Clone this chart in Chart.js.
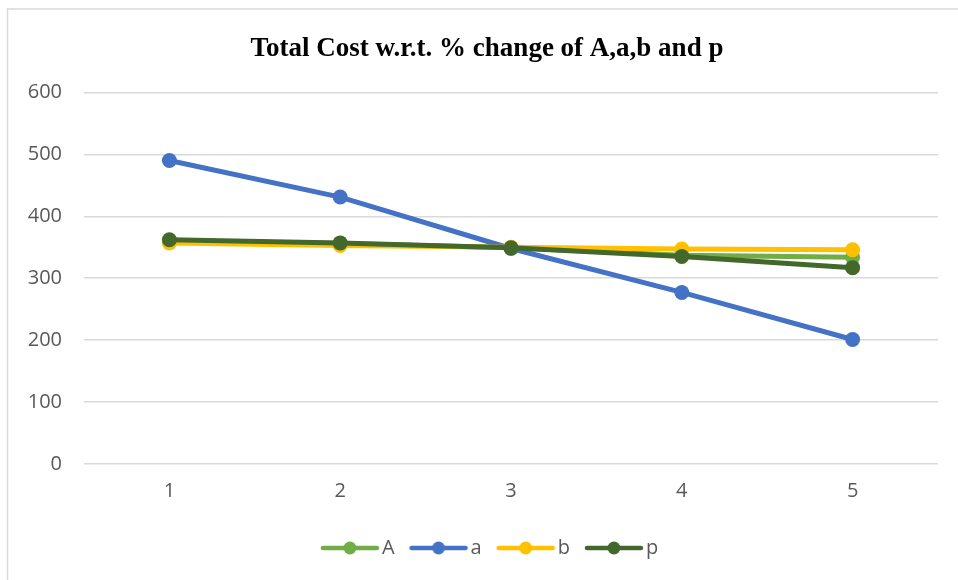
<!DOCTYPE html>
<html>
<head>
<meta charset="utf-8">
<script src="https://cdn.jsdelivr.net/npm/chart.js@4/dist/chart.umd.min.js"></script>
<style>
  html, body { margin: 0; padding: 0; background: #ffffff; }
  #wrap { position: relative; width: 958px; height: 580px; }
</style>
</head>
<body>
<div id="wrap"><canvas id="chart" width="958" height="580"></canvas></div>
<script>
// Percentage-change steps on the x axis
const steps = ['1', '2', '3', '4', '5'];

// Total cost for each parameter varied
const costA = [360, 356, 349, 337, 334];
const costLowerA = [490, 431, 348, 277, 201];
const costB = [357, 353, 350, 347, 346];
const costP = [362, 357, 349, 335, 317];

const seriesNames = ['A', 'a', 'b', 'p'];
const seriesColors = ['#70AD47', '#4472C4', '#FFC000', '#43682B'];

const yTicks = [0, 100, 200, 300, 400, 500, 600];

const tickFont = { family: "'Open Sans', 'Noto Sans', sans-serif", size: 20 };
const tickColor = '#595959';

// Legend swatch: a short line with a dot in the middle
function legendSwatch(color) {
  const c = document.createElement('canvas');
  c.width = 60; c.height = 16;
  const g = c.getContext('2d');
  g.strokeStyle = color;
  g.lineWidth = 4.5;
  g.lineCap = 'round';
  g.beginPath();
  g.moveTo(3, 8); g.lineTo(57, 8);
  g.stroke();
  g.fillStyle = color;
  g.beginPath();
  g.arc(30, 8, 6.5, 0, Math.PI * 2);
  g.fill();
  return c;
}

const allSeries = [costA, costLowerA, costB, costP];
const datasets = allSeries.map((vals, i) => ({
  label: seriesNames[i],
  data: vals,
  borderColor: seriesColors[i],
  backgroundColor: seriesColors[i],
  borderWidth: 5,
  pointRadius: 7.5,
  pointHoverRadius: 7.5,
  pointBorderWidth: 0,
  pointBackgroundColor: seriesColors[i],
  tension: 0,
  order: 3 - i
}));

// Outer frame of the chart
const framePlugin = {
  id: 'frame',
  beforeDraw(chart) {
    const ctx = chart.ctx;
    ctx.save();
    ctx.fillStyle = '#ffffff';
    ctx.fillRect(0, 0, chart.width, chart.height);
    ctx.strokeStyle = '#d9d9d9';
    ctx.lineWidth = 1.5;
    ctx.strokeRect(7.5, 9, chart.width + 20, chart.height + 20);
    ctx.restore();
  }
};

// Centre the title and legend under the whole frame rather than the padded box
const blockShift = {
  id: 'blockShift',
  afterLayout(chart) {
    if (chart.legend) {
      chart.legend.left += 24;
      chart.legend.right += 24;
    }
    if (chart.titleBlock) {
      chart.titleBlock.left += 18;
      chart.titleBlock.right += 18;
    }
  }
};

new Chart(document.getElementById('chart'), {
  type: 'line',
  data: { labels: steps, datasets },
  plugins: [framePlugin, blockShift],
  options: {
    responsive: false,
    animation: false,
    layout: { padding: { left: 0, right: 20, top: 0, bottom: 12 } },
    plugins: {
      title: {
        display: true,
        text: 'Total Cost w.r.t. % change of A,a,b and p',
        color: '#000000',
        font: { family: "'Liberation Serif', 'Times New Roman', serif", size: 27, weight: 'bold' },
        padding: { top: 33, bottom: 27 }
      },
      legend: {
        display: true,
        position: 'bottom',
        labels: {
          usePointStyle: true,
          pointStyleWidth: 44,
          padding: 22,
          color: tickColor,
          font: tickFont,
          generateLabels(chart) {
            return chart.data.datasets.map((ds, i) => ({
              text: ds.label,
              fillStyle: ds.borderColor,
              strokeStyle: ds.borderColor,
              lineWidth: 0,
              pointStyle: legendSwatch(ds.borderColor),
              fontColor: tickColor,
              hidden: false,
              datasetIndex: i
            }));
          }
        }
      },
      tooltip: { enabled: false }
    },
    scales: {
      x: {
        offset: true,
        grid: { display: false, drawTicks: false },
        border: { display: false },
        afterFit(scale) { scale.height -= 2; },
        ticks: { color: tickColor, font: tickFont, padding: 15 }
      },
      y: {
        min: 0,
        max: 600,
        afterBuildTicks(scale) {
          scale.ticks = yTicks.map(v => ({ value: v }));
        },
        afterFit(scale) { scale.width = 84; },
        grid: { color: '#d9d9d9', lineWidth: 1.5, drawTicks: false },
        border: { display: false },
        ticks: { color: tickColor, font: tickFont, padding: 22 }
      }
    }
  }
});
</script>
</body>
</html>
